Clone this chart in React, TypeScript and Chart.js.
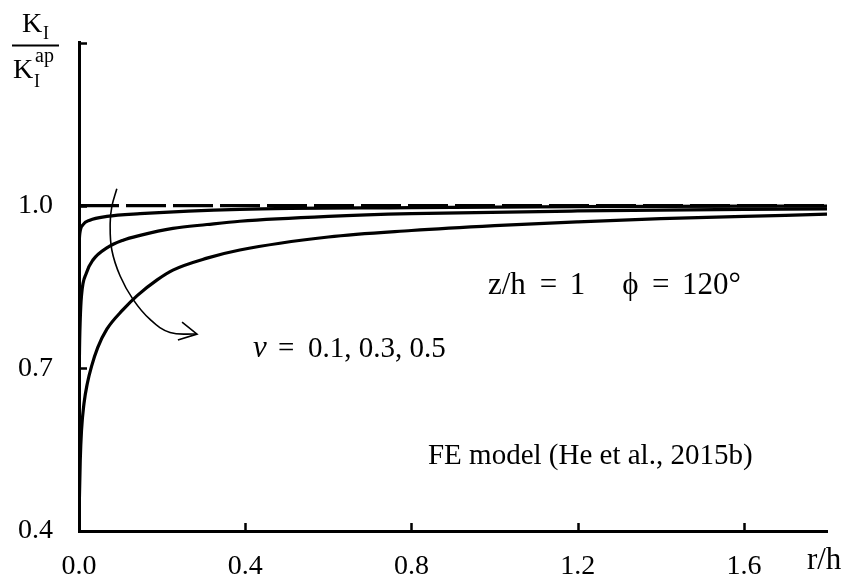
import React, { useEffect, useRef } from 'react';
import { Chart, registerables } from 'chart.js';

Chart.register(...registerables);

// Axis ranges and ticks
const X_MIN = 0;
const X_MAX = 1.8;
const Y_MIN = 0.4;
const Y_MAX = 1.3;
const X_TICKS = [0, 0.4, 0.8, 1.2, 1.6];
const X_TICK_LABELS = ['0.0', '0.4', '0.8', '1.2', '1.6'];
const Y_TICKS = [0.4, 0.7, 1.0, 1.3];
const Y_TICK_LABELS = ['0.4', '0.7', '1.0', ''];

// Reference line K_I / K_I^ap = 1
const R_REF = [0, 1.8];
const K_REF = [1.0, 1.0];

// nu = 0.1
const R_NU01 = [0, 0.002, 0.01, 0.026, 0.067, 0.147, 0.387, 0.8, 1.2, 1.8];
const K_NU01 = [0.93, 0.949, 0.965, 0.973, 0.98, 0.985, 0.993, 0.996, 0.998, 0.999];

// nu = 0.3
const R_NU03 = [0, 0.001, 0.003, 0.006, 0.018, 0.034, 0.067, 0.106, 0.147, 0.226, 0.308, 0.387, 0.6, 0.8, 1.2, 1.8];
const K_NU03 = [0.62, 0.72, 0.79, 0.834, 0.876, 0.9, 0.922, 0.936, 0.945, 0.958, 0.965, 0.971, 0.98, 0.985, 0.99, 0.994];

// nu = 0.5
const R_NU05 = [0, 0.001, 0.003, 0.006, 0.012, 0.02, 0.03, 0.045, 0.067, 0.106, 0.14, 0.188, 0.226, 0.308, 0.387, 0.6, 0.8, 1.0, 1.2, 1.4, 1.6, 1.8];
const K_NU05 = [0.41, 0.46, 0.53, 0.585, 0.635, 0.672, 0.703, 0.738, 0.772, 0.808, 0.834, 0.863, 0.881, 0.903, 0.918, 0.942, 0.954, 0.963, 0.97, 0.976, 0.98, 0.984];

// curved arrow (direction of increasing nu)
const ARROW_R = [0.091, 0.079, 0.075, 0.079, 0.099, 0.13, 0.171, 0.219, 0.284];
const ARROW_K = [1.031, 0.998, 0.967, 0.918, 0.87, 0.827, 0.79, 0.766, 0.763];
const HEAD_R = [0.248, 0.284, 0.238];
const HEAD_K = [0.785, 0.763, 0.752];

const SERIF = "'Liberation Serif', 'Times New Roman', serif";

const pts = (xs: number[], ys: number[]) => xs.map((x, i) => ({ x, y: ys[i] }));

const annotPlugin = {
  id: 'annot',
  afterDraw(chart: any) {
    const { ctx, chartArea, scales } = chart;
    const xs = scales.x;
    const ys = scales.y;
    ctx.save();
    // inward tick marks
    ctx.strokeStyle = '#000';
    ctx.lineWidth = 2.5;
    ctx.beginPath();
    X_TICKS.forEach((v) => {
      if (v === X_MIN) return;
      const px = Math.round(xs.getPixelForValue(v)) + 0.5;
      ctx.moveTo(px, chartArea.bottom);
      ctx.lineTo(px, chartArea.bottom - 8);
    });
    Y_TICKS.forEach((v) => {
      if (v === Y_MIN) return;
      const py = Math.round(ys.getPixelForValue(v)) + 0.5;
      ctx.moveTo(chartArea.left, py);
      ctx.lineTo(chartArea.left + 8, py);
    });
    ctx.stroke();

    ctx.fillStyle = '#000';
    ctx.textBaseline = 'alphabetic';
    ctx.textAlign = 'left';
    const put = (t: string, xv: number, yv: number, font: string) => {
      ctx.font = font;
      ctx.fillText(t, xs.getPixelForValue(xv), ys.getPixelForValue(yv));
    };
    const f31 = `31px ${SERIF}`;
    const f29 = `29px ${SERIF}`;
    // z/h = 1   phi = 120°
    put('z/h', 0.984, 0.8376, f31);
    put('=', 1.109, 0.8376, f31);
    put('1', 1.181, 0.8376, f31);
    put('\u03D5', 1.307, 0.8376, f31);
    put('=', 1.379, 0.8376, f31);
    put('120\u00B0', 1.451, 0.8376, f31);
    // nu = 0.1, 0.3, 0.5
    put('\u03BD', 0.4187, 0.7208, `italic 31px ${SERIF}`);
    put('=', 0.4788, 0.7208, f29);
    put('0.1, 0.3, 0.5', 0.551, 0.7208, f29);
    // source
    put('FE model (He et al., 2015b)', 0.8398, 0.5237, f29);
    // x axis title
    put('r/h', 1.7517, 0.3303, `31px ${SERIF}`);

    // y axis title (fraction)
    ctx.font = `28px ${SERIF}`;
    ctx.fillText('K', 22, 32);
    ctx.fillText('K', 13, 78);
    ctx.font = `18px ${SERIF}`;
    ctx.fillText('I', 43, 39);
    ctx.fillText('I', 34, 87);
    ctx.font = `20px ${SERIF}`;
    ctx.fillText('ap', 35, 62);
    ctx.lineWidth = 2;
    ctx.beginPath();
    ctx.moveTo(12, 45.5);
    ctx.lineTo(59, 45.5);
    ctx.stroke();
    ctx.restore();
  },
};

export default function App() {
  const ref = useRef<HTMLCanvasElement | null>(null);
  useEffect(() => {
    document.body.style.margin = '0';
    if (!ref.current) return;
    const solid = (xs: number[], ys: number[]) => ({
      data: pts(xs, ys),
      borderColor: '#000',
      borderWidth: 3.2,
      pointRadius: 0,
      cubicInterpolationMode: 'monotone' as const,
      fill: false,
    });
    const chart = new Chart(ref.current, {
      type: 'line',
      data: {
        datasets: [
          {
            data: pts(R_REF, K_REF),
            borderColor: '#000',
            borderWidth: 3.2,
            borderDash: [40, 7],
            pointRadius: 0,
            fill: false,
          },
          solid(R_NU01, K_NU01),
          solid(R_NU03, K_NU03),
          solid(R_NU05, K_NU05),
          {
            data: pts(ARROW_R, ARROW_K),
            borderColor: '#000',
            borderWidth: 1.6,
            pointRadius: 0,
            tension: 0.4,
            fill: false,
          },
          {
            data: pts(HEAD_R, HEAD_K),
            borderColor: '#000',
            borderWidth: 1.6,
            pointRadius: 0,
            tension: 0,
            fill: false,
          },
        ],
      },
      options: {
        animation: false,
        responsive: false,
        layout: { padding: { left: 0, top: 38, right: 24, bottom: 0 } },
        plugins: { legend: { display: false }, tooltip: { enabled: false } },
        events: [],
        scales: {
          x: {
            type: 'linear',
            min: X_MIN,
            max: X_MAX,
            afterFit: (s: any) => {
              s.height = 50;
            },
            afterBuildTicks: (s: any) => {
              s.ticks = X_TICKS.map((v) => ({ value: v }));
            },
            grid: { display: false, drawTicks: false },
            border: { display: true, color: '#000', width: 3 },
            ticks: {
              color: '#000',
              padding: 19,
              maxRotation: 0,
              autoSkip: false,
              font: { family: SERIF, size: 28 },
              callback: (v: any, i: number) => X_TICK_LABELS[i],
            },
          },
          y: {
            type: 'linear',
            min: Y_MIN,
            max: Y_MAX,
            afterFit: (s: any) => {
              s.width = 79;
            },
            afterBuildTicks: (s: any) => {
              s.ticks = Y_TICKS.map((v) => ({ value: v }));
            },
            grid: { display: false, drawTicks: false },
            border: { display: true, color: '#000', width: 3 },
            ticks: {
              color: '#000',
              padding: 26,
              autoSkip: false,
              font: { family: SERIF, size: 28 },
              callback: (v: any, i: number) => Y_TICK_LABELS[i],
            },
          },
        },
      },
      plugins: [annotPlugin],
    });
    return () => chart.destroy();
  }, []);
  return (
    <canvas
      ref={ref}
      width={851}
      height={581}
      style={{ display: 'block', width: 851, height: 581 }}
    />
  );
}
